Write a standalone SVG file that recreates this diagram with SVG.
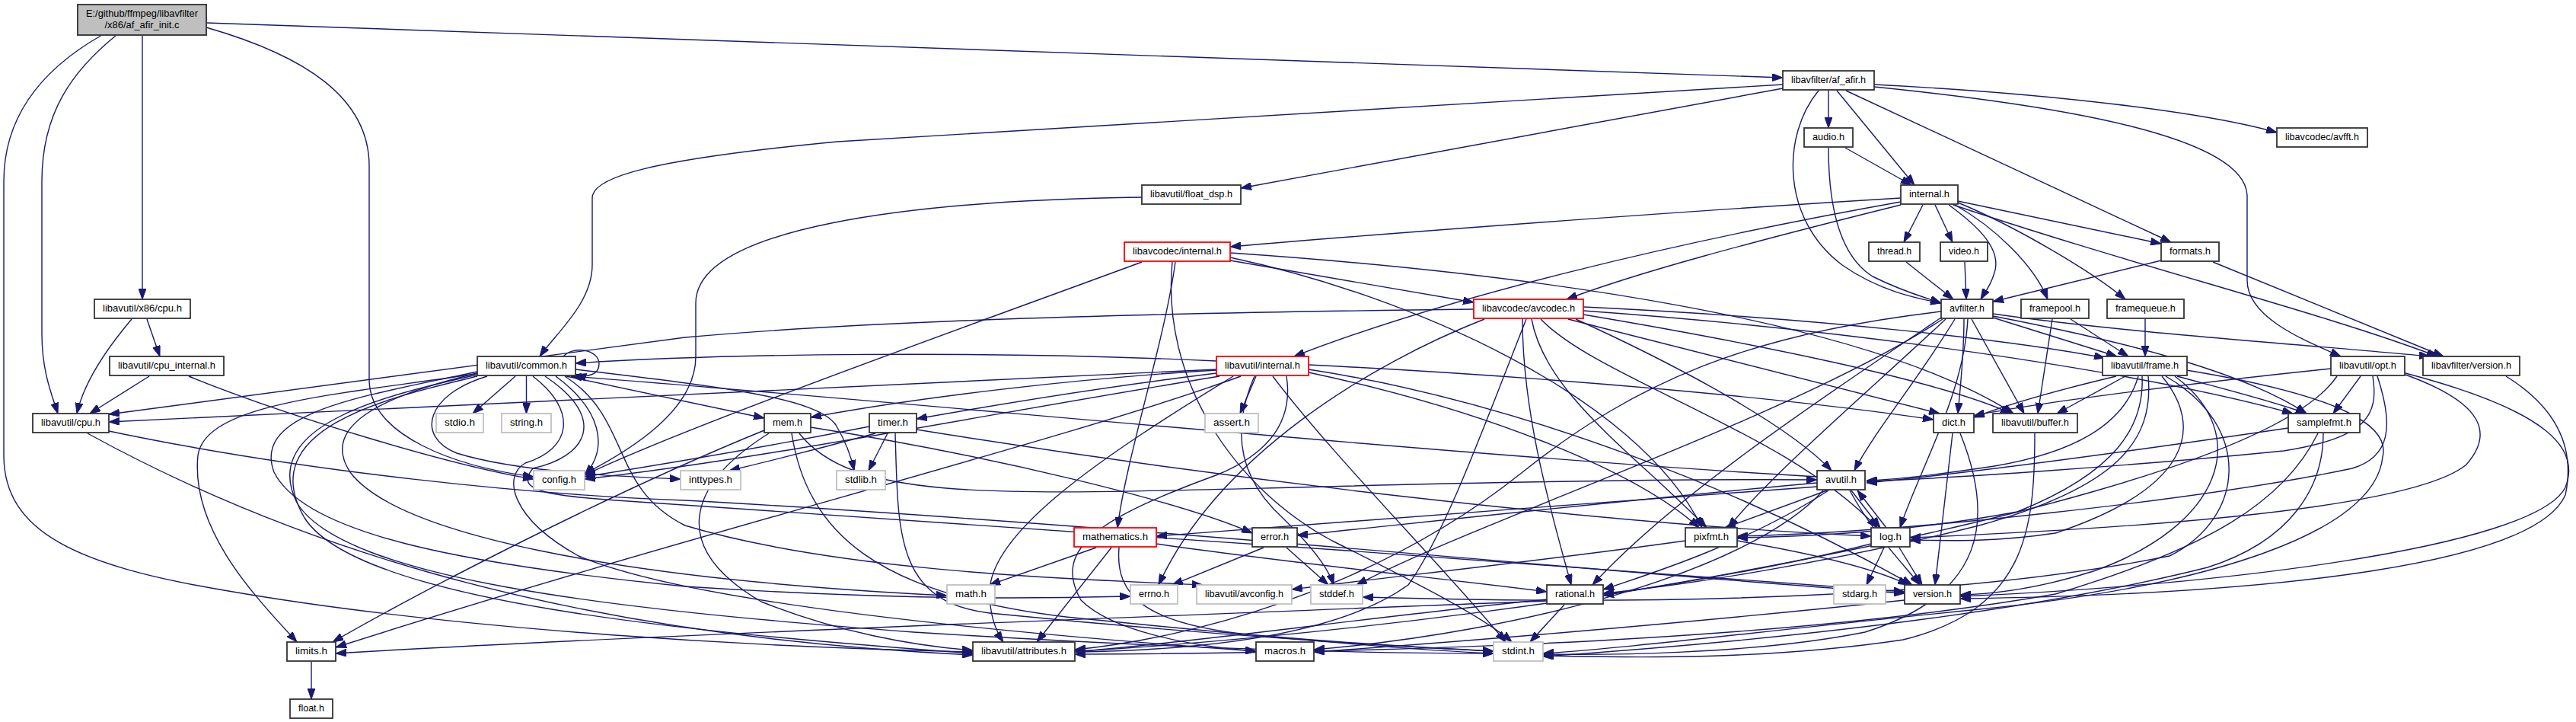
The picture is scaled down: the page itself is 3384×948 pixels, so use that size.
<svg xmlns="http://www.w3.org/2000/svg" width="3384" height="948" viewBox="0 0 3384 948">
<style>
.n rect{fill:#fff;stroke:#333;stroke-width:1.8}
.g rect{stroke:#c0c0c0}
.r rect{stroke:#ff0000}
.rt rect{fill:#bfbfbf;stroke:#404040;stroke-width:2}
text{font-family:"Liberation Sans",Arial,sans-serif;font-size:13px;text-anchor:middle;fill:#000}
#edges path{fill:none;stroke:#191970;stroke-width:1.4;marker-end:url(#ah)}
</style>
<defs>
<marker id="ah" viewBox="0 0 14 10" refX="14" refY="5" markerWidth="14" markerHeight="10" markerUnits="userSpaceOnUse" orient="auto"><path d="M0,0 L14,5 L0,10 z" fill="#191970" stroke="#191970" stroke-width="1"/></marker>
</defs>
<rect width="3384" height="948" fill="#fff"/>
<g id="edges" transform="translate(0,-2)">
<path d="M187,48 L187,395"/>
<path d="M153,48 C95,95 55,150 55,240 L55,440 C55,490 68,520 76,545"/>
<path d="M134,48 C60,90 5,150 5,240 L5,600 C5,700 100,745 300,778 C600,830 1000,852 1278,858"/>
<path d="M271,38 C400,75 485,130 485,220 L485,500 C485,575 600,615 701,628"/>
<path d="M271,32 L2342,104"/>
<path d="M173,421 C140,460 110,505 101,545"/>
<path d="M193,421 L210,470"/>
<path d="M196,496 L118,545"/>
<path d="M248,496 C380,550 600,615 701,631"/>
<path d="M115,571 C350,700 700,835 1278,862"/>
<path d="M143,568 C400,622 700,652 900,659 C1500,692 2200,762 2502,781"/>
<path d="M677,496 L621,545"/>
<path d="M691.5,496 L691.5,545"/>
<path d="M740,470 C752,456 787,460 787,480 C787,494 772,498 756,494"/>
<path d="M744,496 L1004,551"/>
<path d="M756,487 C950,510 1075,525 1098,560 C1110,580 1118,600 1122,620"/>
<path d="M640,496 C560,520 545,575 600,597 C680,622 820,628 894,631"/>
<path d="M730,496 C790,540 800,590 768,626"/>
<path d="M630,492 C450,520 270,530 260,600 C250,700 340,790 390,845"/>
<path d="M627,492 C500,522 420,562 460,622 C520,702 800,762 1244,784"/>
<path d="M627,490 C480,522 330,542 360,622 C400,702 600,742 900,772 C1200,792 1400,787 1485,785"/>
<path d="M627,494 C500,522 340,562 390,662 C450,762 800,802 1200,832 C1600,857 1850,860 1962,860"/>
<path d="M627,496 C520,522 330,562 400,682 C470,792 900,832 1278,860"/>
<path d="M700,496 C760,542 750,592 690,610 C660,627 670,682 760,732 C900,792 1300,832 1650,857"/>
<path d="M716,496 C800,552 770,602 700,617 C680,642 700,652 810,659 C1200,682 2000,742 2502,779"/>
<path d="M742,496 C830,552 800,642 900,692 C1100,752 1400,762 1580,770"/>
<path d="M2342,113 L1100,188 C850,212 778,235 778,262 L778,350 C778,400 730,440 709,470"/>
<path d="M1598,476 C1300,462 950,466 756,479"/>
<path d="M2387,628 C1900,600 1200,530 750,496"/>
<path d="M1004,567 C800,650 550,780 437,845"/>
<path d="M1040,571 C1060,700 1150,782 1400,812 C1700,842 1850,855 1962,860"/>
<path d="M1010,571 C900,640 880,722 1000,792 C1100,832 1200,850 1278,856"/>
<path d="M1065,563 C1300,600 1550,660 1645,702"/>
<path d="M1050,571 C1120,660 1300,652 1700,642 C2000,634 2250,631 2387,632"/>
<path d="M1142,562 C1000,590 850,615 768,628"/>
<path d="M1150,571 C1080,590 1000,610 958,620"/>
<path d="M1166,571 L1141,620"/>
<path d="M1176,571 C1180,700 1175,792 1300,807 C1600,837 1850,852 1962,857"/>
<path d="M1204,566 C1600,630 2100,690 2458,706"/>
<path d="M1500,261 C1200,265 914,300 914,400 L914,470 C914,540 830,592 768,624"/>
<path d="M1598,492 C1450,510 1300,535 1204,552"/>
<path d="M1650,496 L1629,545"/>
<path d="M1598,488 C1400,500 1200,525 1065,550"/>
<path d="M1598,487 L143,556"/>
<path d="M1602,496 C1300,545 1000,605 768,631"/>
<path d="M1630,496 C1400,580 900,705 441,852"/>
<path d="M1672,496 C1750,600 1900,750 1978,845"/>
<path d="M1648,496 C1620,560 1622,625 1685,682 C1722,718 1745,748 1752,770"/>
<path d="M1690,496 C1700,560 1660,600 1600,625 C1450,680 1380,720 1420,790 C1460,830 1560,850 1650,857"/>
<path d="M1620,496 C1450,600 1300,700 1300,780 C1300,810 1308,830 1318,845"/>
<path d="M1719,491 C1950,540 2150,620 2232,695"/>
<path d="M1719,481 C2100,500 2400,532 2540,553"/>
<path d="M1719,487 C2000,530 2300,650 2512,770"/>
<path d="M1616,344 L1936,399"/>
<path d="M1544,346 C1530,450 1480,600 1468,695"/>
<path d="M1500,346 C1300,420 900,562 768,626"/>
<path d="M1540,346 C1525,500 1620,642 1750,712 C1850,762 1950,812 1986,845"/>
<path d="M1616,334 C2000,360 2450,420 2645,545"/>
<path d="M1616,340 C1850,390 2150,520 2236,695"/>
<path d="M1936,408 C1400,414 1100,427 900,445 L143,546"/>
<path d="M1950,421 C1800,480 1600,600 1522,770"/>
<path d="M2080,410 C2500,440 2850,500 3012,545"/>
<path d="M2005,421 C1950,560 1900,700 1850,770 C1750,842 1550,856 1412,858"/>
<path d="M2070,421 C2200,480 2350,560 2406,620"/>
<path d="M2080,415 C2300,452 2550,502 2642,545"/>
<path d="M2060,421 C2250,470 2450,520 2548,545"/>
<path d="M2080,405 C2400,420 2650,450 2765,472"/>
<path d="M2024,421 C2100,500 2350,570 2466,695"/>
<path d="M2012,421 C2030,520 2150,600 2242,695"/>
<path d="M2000,421 C2000,550 2040,682 2064,770"/>
<path d="M2526,271 L2501,320"/>
<path d="M2542,271 L2565,320"/>
<path d="M2560,271 C2600,300 2630,330 2620,360 C2615,378 2606,388 2602,395"/>
<path d="M2568,271 C2620,300 2672,350 2690,395"/>
<path d="M2572,268 C2650,300 2750,360 2792,395"/>
<path d="M2572,266 L2839,322"/>
<path d="M2566,271 C2800,350 3050,412 3202,470"/>
<path d="M2497,262 C2200,280 1800,310 1616,326"/>
<path d="M2497,267 C2200,320 1900,392 1700,470"/>
<path d="M2497,271 C2300,320 2150,360 2058,395"/>
<path d="M2402,121 L2402,170"/>
<path d="M2413,121 L2515,245"/>
<path d="M2425,121 L2852,320"/>
<path d="M2389,121 C2340,180 2340,290 2420,350 C2470,385 2520,394 2550,400"/>
<path d="M2462,116 C2700,140 2952,180 2952,260 L2952,370 C2952,420 3030,450 3075,470"/>
<path d="M2462,113 C2700,125 2900,150 2991,176"/>
<path d="M2342,118 L1630,249"/>
<path d="M2424,196 L2511,245"/>
<path d="M2402,196 C2402,280 2420,340 2460,365 C2500,385 2530,393 2550,400"/>
<path d="M2504,346 L2566,395"/>
<path d="M2581,346 L2583,395"/>
<path d="M2839,344 L2618,398"/>
<path d="M2907,346 L3210,470"/>
<path d="M2618,414 C2800,440 3050,456 3192,470"/>
<path d="M2618,419 L2781,470"/>
<path d="M2618,417 C2800,452 2950,492 3030,545"/>
<path d="M2580,421 C2580,470 2575,512 2572,545"/>
<path d="M2590,421 L2659,545"/>
<path d="M2568,421 C2520,500 2460,572 2436,620"/>
<path d="M2585,421 C2580,520 2520,622 2496,695"/>
<path d="M2556,421 C2450,520 2330,622 2270,695"/>
<path d="M2550,419 C2400,520 2200,652 2092,770"/>
<path d="M2550,411 C2300,440 2150,502 2000,622 C1800,782 1550,842 1412,855"/>
<path d="M2552,421 C2350,552 1950,682 1782,770"/>
<path d="M2720,421 L2796,470"/>
<path d="M2696,421 L2677,545"/>
<path d="M2818,421 L2818,470"/>
<path d="M2780,496 C2700,515 2640,532 2593,550"/>
<path d="M2792,496 L2702,545"/>
<path d="M2809,496 C2790,562 2720,597 2620,614 C2540,626 2490,632 2452,633"/>
<path d="M2860,496 C2930,515 2990,530 3030,545"/>
<path d="M2822,496 C2830,582 2780,642 2600,692 C2400,742 2200,772 2106,781"/>
<path d="M2814,496 C2817,562 2780,622 2650,674 C2500,702 2350,707 2282,708"/>
<path d="M2840,496 C2895,562 2880,642 2700,702 C2620,714 2560,712 2509,711"/>
<path d="M2857,496 C2960,572 2920,692 2750,752 C2680,774 2620,782 2575,783"/>
<path d="M2845,496 C2960,562 2950,682 2850,732 C2500,802 2000,792 1790,786"/>
<path d="M2872,488 C3080,522 3140,562 3130,602 C3120,702 2900,772 2600,802 C2300,832 2150,852 2027,860"/>
<path d="M3070,496 C3000,600 2600,702 2106,784"/>
<path d="M3117,496 C3125,547 3110,577 3000,594 C2800,614 2560,630 2452,634"/>
<path d="M3062,486 C2850,508 2650,535 2593,548"/>
<path d="M3101,496 L3065,545"/>
<path d="M3160,494 C3265,532 3275,572 3240,612 C3180,662 2900,692 2509,708"/>
<path d="M3123,496 C3145,562 3140,602 3090,617 C2900,657 2500,702 2282,706"/>
<path d="M3160,492 C3350,542 3390,592 3370,642 C3330,722 2900,772 2575,785"/>
<path d="M3292,496 C3350,532 3385,582 3370,652 C3330,742 3000,782 2575,788"/>
<path d="M2565,571 L2542,770"/>
<path d="M2575,571 C2620,682 2610,782 2450,832 C2300,862 2100,862 2027,861"/>
<path d="M2673,571 C2673,702 2660,802 2500,842 C2300,872 2100,864 2027,863"/>
<path d="M3006,564 C2850,587 2600,622 2452,636"/>
<path d="M3045,571 C3000,662 2900,722 2700,782 C2300,852 1700,860 1412,861"/>
<path d="M3052,571 C3052,642 3010,712 2900,747 C2600,822 2200,852 2027,864"/>
<path d="M2387,636 C2100,662 1850,690 1704,705"/>
<path d="M2430,646 C2460,702 2500,742 2522,770"/>
<path d="M2395,646 C2300,752 2000,832 1726,855"/>
<path d="M2387,641 C2100,662 1700,692 1519,706"/>
<path d="M2402,646 C2300,712 2180,752 2106,776"/>
<path d="M2432,646 L2470,695"/>
<path d="M2400,646 L2266,695"/>
<path d="M2478,695 L2440,646"/>
<path d="M2475,721 L2452,770"/>
<path d="M2495,721 L2525,770"/>
<path d="M2458,716 C2200,782 1700,842 1412,857"/>
<path d="M2214,712 C2000,742 1800,762 1697,776"/>
<path d="M2282,712 C2400,732 2470,752 2507,770"/>
<path d="M1660,721 L1540,770"/>
<path d="M1690,721 L1745,770"/>
<path d="M1440,721 L1300,770"/>
<path d="M1460,721 L1362,845"/>
<path d="M1519,716 C1700,742 1900,762 2032,779"/>
<path d="M1470,721 C1465,782 1500,822 1650,836 C1800,849 1900,854 1962,857"/>
<path d="M2055,796 L2010,845"/>
<path d="M2032,791 C1500,812 800,838 441,860"/>
<path d="M2032,789 C1800,812 1600,842 1412,858"/>
<path d="M2502,790 C2200,822 1900,846 1726,858"/>
<path d="M409,871 L409,920"/>
</g>
<g id="root" class="n rt"><rect x="102" y="6" width="169" height="40"/><text x="186.5" y="22" textLength="147" lengthAdjust="spacingAndGlyphs">E:/github/ffmpeg/libavfilter</text><text x="186.5" y="37" textLength="98" lengthAdjust="spacingAndGlyphs">/x86/af_afir_init.c</text></g>
<g id="x86cpu" class="n"><rect x="124" y="393" width="126" height="25"/><text x="187" y="409" textLength="104" lengthAdjust="spacingAndGlyphs">libavutil/x86/cpu.h</text></g>
<g id="cpu_internal" class="n"><rect x="144" y="468" width="150" height="25"/><text x="219" y="484" textLength="128" lengthAdjust="spacingAndGlyphs">libavutil/cpu_internal.h</text></g>
<g id="cpu" class="n"><rect x="43" y="543" width="100" height="25"/><text x="93" y="559" textLength="78" lengthAdjust="spacingAndGlyphs">libavutil/cpu.h</text></g>
<g id="common" class="n"><rect x="627" y="468" width="129" height="25"/><text x="691.5" y="484" textLength="107" lengthAdjust="spacingAndGlyphs">libavutil/common.h</text></g>
<g id="stdio" class="n g"><rect x="573" y="543" width="62" height="25"/><text x="604" y="559" textLength="40" lengthAdjust="spacingAndGlyphs">stdio.h</text></g>
<g id="string" class="n g"><rect x="659" y="543" width="65" height="25"/><text x="691.5" y="559" textLength="43" lengthAdjust="spacingAndGlyphs">string.h</text></g>
<g id="mem" class="n"><rect x="1004" y="543" width="61" height="25"/><text x="1034.5" y="559" textLength="39" lengthAdjust="spacingAndGlyphs">mem.h</text></g>
<g id="config" class="n g"><rect x="701" y="618" width="67" height="25"/><text x="734.5" y="634" textLength="45" lengthAdjust="spacingAndGlyphs">config.h</text></g>
<g id="inttypes" class="n g"><rect x="894" y="618" width="79" height="25"/><text x="933.5" y="634" textLength="57" lengthAdjust="spacingAndGlyphs">inttypes.h</text></g>
<g id="stdlib" class="n g"><rect x="1099" y="618" width="64" height="25"/><text x="1131" y="634" textLength="42" lengthAdjust="spacingAndGlyphs">stdlib.h</text></g>
<g id="limits" class="n"><rect x="377" y="843" width="64" height="25"/><text x="409" y="859" textLength="42" lengthAdjust="spacingAndGlyphs">limits.h</text></g>
<g id="float" class="n"><rect x="381" y="918" width="56" height="25"/><text x="409" y="934" textLength="34" lengthAdjust="spacingAndGlyphs">float.h</text></g>
<g id="float_dsp" class="n"><rect x="1500" y="243" width="130" height="25"/><text x="1565" y="259" textLength="108" lengthAdjust="spacingAndGlyphs">libavutil/float_dsp.h</text></g>
<g id="lavc_internal" class="n r"><rect x="1477" y="318" width="139" height="25"/><text x="1546.5" y="334" textLength="117" lengthAdjust="spacingAndGlyphs">libavcodec/internal.h</text></g>
<g id="avcodec" class="n r"><rect x="1936" y="393" width="144" height="25"/><text x="2008" y="409" textLength="122" lengthAdjust="spacingAndGlyphs">libavcodec/avcodec.h</text></g>
<g id="lavu_internal" class="n r"><rect x="1598" y="468" width="121" height="25"/><text x="1658.5" y="484" textLength="99" lengthAdjust="spacingAndGlyphs">libavutil/internal.h</text></g>
<g id="timer" class="n"><rect x="1142" y="543" width="62" height="25"/><text x="1173" y="559" textLength="40" lengthAdjust="spacingAndGlyphs">timer.h</text></g>
<g id="assert" class="n g"><rect x="1583" y="543" width="70" height="25"/><text x="1618" y="559" textLength="48" lengthAdjust="spacingAndGlyphs">assert.h</text></g>
<g id="mathematics" class="n r"><rect x="1411" y="693" width="108" height="25"/><text x="1465" y="709" textLength="86" lengthAdjust="spacingAndGlyphs">mathematics.h</text></g>
<g id="error" class="n"><rect x="1645" y="693" width="59" height="25"/><text x="1674.5" y="709" textLength="37" lengthAdjust="spacingAndGlyphs">error.h</text></g>
<g id="math" class="n g"><rect x="1244" y="768" width="63" height="25"/><text x="1275.5" y="784" textLength="41" lengthAdjust="spacingAndGlyphs">math.h</text></g>
<g id="errno" class="n g"><rect x="1485" y="768" width="62" height="25"/><text x="1516" y="784" textLength="40" lengthAdjust="spacingAndGlyphs">errno.h</text></g>
<g id="avconfig" class="n g"><rect x="1572" y="768" width="125" height="25"/><text x="1634.5" y="784" textLength="103" lengthAdjust="spacingAndGlyphs">libavutil/avconfig.h</text></g>
<g id="stddef" class="n g"><rect x="1722" y="768" width="68" height="25"/><text x="1756" y="784" textLength="46" lengthAdjust="spacingAndGlyphs">stddef.h</text></g>
<g id="rational" class="n"><rect x="2032" y="768" width="74" height="25"/><text x="2069" y="784" textLength="52" lengthAdjust="spacingAndGlyphs">rational.h</text></g>
<g id="attributes" class="n"><rect x="1278" y="843" width="134" height="25"/><text x="1345" y="859" textLength="112" lengthAdjust="spacingAndGlyphs">libavutil/attributes.h</text></g>
<g id="macros" class="n"><rect x="1650" y="843" width="76" height="25"/><text x="1688" y="859" textLength="54" lengthAdjust="spacingAndGlyphs">macros.h</text></g>
<g id="stdint" class="n g"><rect x="1962" y="843" width="65" height="25"/><text x="1994.5" y="859" textLength="43" lengthAdjust="spacingAndGlyphs">stdint.h</text></g>
<g id="pixfmt" class="n"><rect x="2214" y="693" width="68" height="25"/><text x="2248" y="709" textLength="46" lengthAdjust="spacingAndGlyphs">pixfmt.h</text></g>
<g id="af_afir" class="n"><rect x="2342" y="93" width="120" height="25"/><text x="2402" y="109" textLength="98" lengthAdjust="spacingAndGlyphs">libavfilter/af_afir.h</text></g>
<g id="audio" class="n"><rect x="2370" y="168" width="64" height="25"/><text x="2402" y="184" textLength="42" lengthAdjust="spacingAndGlyphs">audio.h</text></g>
<g id="avfft" class="n"><rect x="2991" y="168" width="119" height="25"/><text x="3050.5" y="184" textLength="97" lengthAdjust="spacingAndGlyphs">libavcodec/avfft.h</text></g>
<g id="lavfi_internal" class="n"><rect x="2497" y="243" width="75" height="25"/><text x="2534.5" y="259" textLength="53" lengthAdjust="spacingAndGlyphs">internal.h</text></g>
<g id="thread" class="n"><rect x="2455" y="318" width="67" height="25"/><text x="2488.5" y="334" textLength="45" lengthAdjust="spacingAndGlyphs">thread.h</text></g>
<g id="video" class="n"><rect x="2549" y="318" width="62" height="25"/><text x="2580" y="334" textLength="40" lengthAdjust="spacingAndGlyphs">video.h</text></g>
<g id="formats" class="n"><rect x="2839" y="318" width="76" height="25"/><text x="2877" y="334" textLength="54" lengthAdjust="spacingAndGlyphs">formats.h</text></g>
<g id="avfilter" class="n"><rect x="2550" y="393" width="68" height="25"/><text x="2584" y="409" textLength="46" lengthAdjust="spacingAndGlyphs">avfilter.h</text></g>
<g id="framepool" class="n"><rect x="2655" y="393" width="89" height="25"/><text x="2699.5" y="409" textLength="67" lengthAdjust="spacingAndGlyphs">framepool.h</text></g>
<g id="framequeue" class="n"><rect x="2768" y="393" width="101" height="25"/><text x="2818.5" y="409" textLength="79" lengthAdjust="spacingAndGlyphs">framequeue.h</text></g>
<g id="frame" class="n"><rect x="2762" y="468" width="111" height="25"/><text x="2817.5" y="484" textLength="89" lengthAdjust="spacingAndGlyphs">libavutil/frame.h</text></g>
<g id="opt" class="n"><rect x="3062" y="468" width="97" height="25"/><text x="3110.5" y="484" textLength="75" lengthAdjust="spacingAndGlyphs">libavutil/opt.h</text></g>
<g id="lavfi_version" class="n"><rect x="3183" y="468" width="127" height="25"/><text x="3246.5" y="484" textLength="105" lengthAdjust="spacingAndGlyphs">libavfilter/version.h</text></g>
<g id="dict" class="n"><rect x="2540" y="543" width="53" height="25"/><text x="2566.5" y="559" textLength="31" lengthAdjust="spacingAndGlyphs">dict.h</text></g>
<g id="buffer" class="n"><rect x="2618" y="543" width="111" height="25"/><text x="2673.5" y="559" textLength="89" lengthAdjust="spacingAndGlyphs">libavutil/buffer.h</text></g>
<g id="samplefmt" class="n"><rect x="3006" y="543" width="94" height="25"/><text x="3053" y="559" textLength="72" lengthAdjust="spacingAndGlyphs">samplefmt.h</text></g>
<g id="avutil" class="n"><rect x="2387" y="618" width="63" height="25"/><text x="2418.5" y="634" textLength="41" lengthAdjust="spacingAndGlyphs">avutil.h</text></g>
<g id="log" class="n"><rect x="2458" y="693" width="51" height="25"/><text x="2483.5" y="709" textLength="29" lengthAdjust="spacingAndGlyphs">log.h</text></g>
<g id="stdarg" class="n g"><rect x="2409" y="768" width="68" height="25"/><text x="2443" y="784" textLength="46" lengthAdjust="spacingAndGlyphs">stdarg.h</text></g>
<g id="version" class="n"><rect x="2502" y="768" width="73" height="25"/><text x="2538.5" y="784" textLength="51" lengthAdjust="spacingAndGlyphs">version.h</text></g>
</svg>
